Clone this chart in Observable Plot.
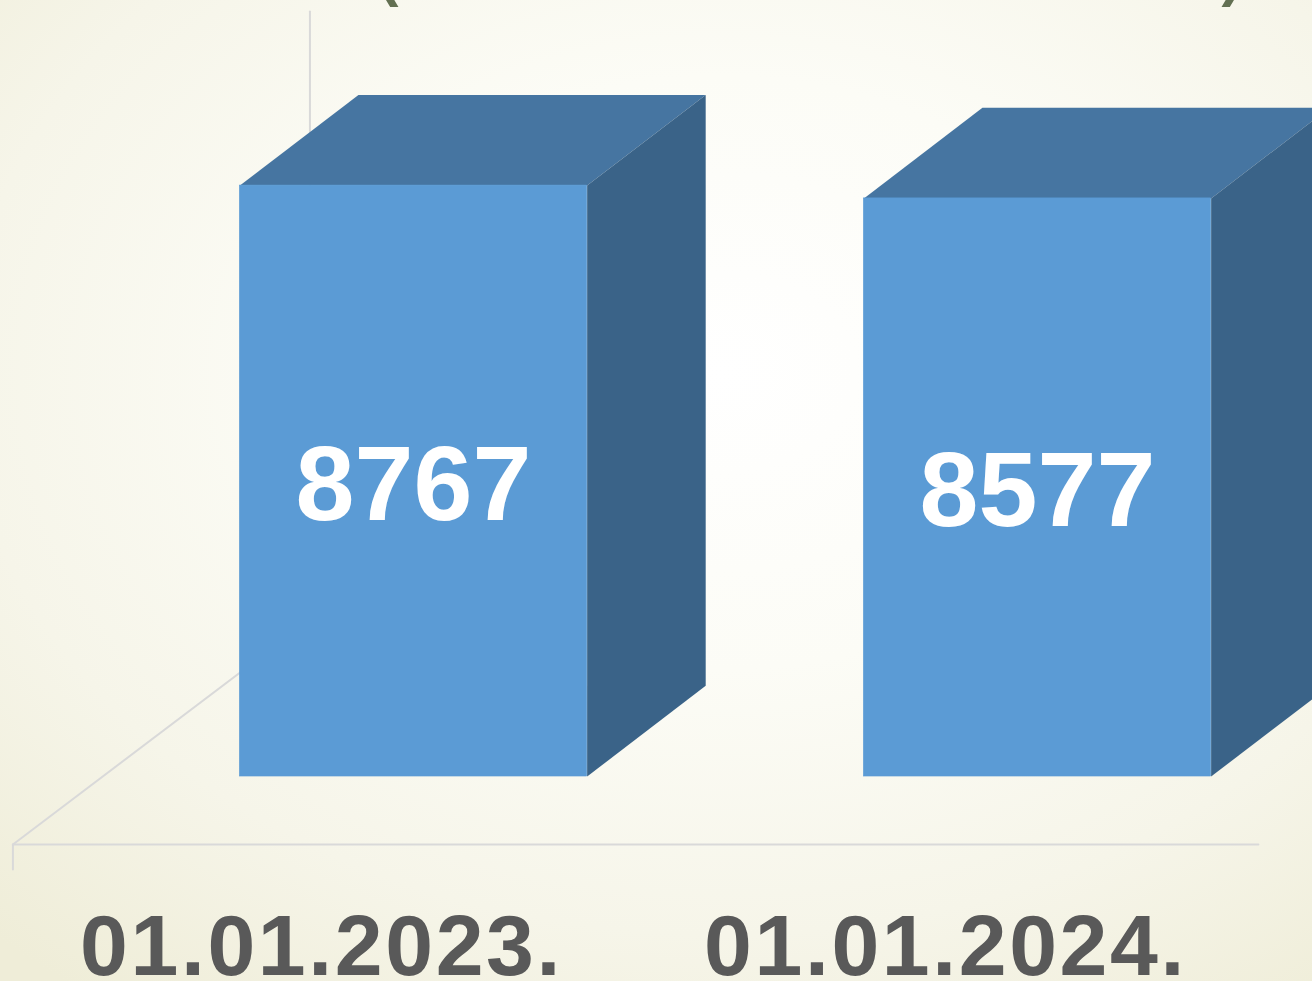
<!DOCTYPE html>
<html>
<head>
<meta charset="utf-8">
<script src="https://cdn.jsdelivr.net/npm/d3@7"></script>
<script src="https://cdn.jsdelivr.net/npm/@observablehq/plot@0.6"></script>
<style>
html,body{margin:0;padding:0;width:1312px;height:981px;overflow:hidden;
background:radial-gradient(ellipse 1050px 780px at 55% 38%, #ffffff 0%, #fcfcf6 38%, #f6f5e9 72%, #efedd8 100%);}
svg{display:block;background:transparent!important;}
.date-label text{letter-spacing:2.6px;}
</style>
</head>
<body>
<div id="chart"></div>
<script>
const categories = ["01.01.2023.", "01.01.2024."];
const values = [8767, 8577];
const positions = [0, 1];
const titleBrackets = ["(", ")"];
const titleBracketX = [-0.04, 1.311];

// 3D projection of the column depth, in scale units
const barWidth = 0.5565;
const depthX = 0.19;
const depthY = 1345;
const floorStart = -0.642;   // left end of the floor line
const floorEnd = 1.354;      // right end of the floor line
const floorFront = -1009;    // floor's front edge, below the columns' base
const wallTop = 11350;
const tickBottom = -1380;

const rows = categories.map((c, i) => ({label: c, value: values[i], pos: positions[i]}));
const faces = rows.flatMap(d => {
  const l = d.pos - barWidth / 2, r = d.pos + barWidth / 2, v = d.value;
  return [
    {face: "top", id: d.label, x: l, y: v}, {face: "top", id: d.label, x: r, y: v},
    {face: "top", id: d.label, x: r + depthX, y: v + depthY}, {face: "top", id: d.label, x: l + depthX, y: v + depthY},
    {face: "side", id: d.label, x: r, y: v}, {face: "side", id: d.label, x: r + depthX, y: v + depthY},
    {face: "side", id: d.label, x: r + depthX, y: depthY}, {face: "side", id: d.label, x: r, y: 0}
  ];
});
const faceOf = f => faces.filter(d => d.face === f);

// back corner of the floor, where the diagonal reaches the wall
const backX = floorStart + 0.476;
const backY = floorFront + 3338;
const axisLines = [
  {id: "floor", x: floorStart, y: floorFront}, {id: "floor", x: floorEnd, y: floorFront},
  {id: "tick", x: floorStart, y: floorFront}, {id: "tick", x: floorStart, y: tickBottom},
  {id: "diag", x: floorStart, y: floorFront}, {id: "diag", x: backX, y: backY},
  {id: "wall", x: backX, y: wallTop}, {id: "wall", x: backX, y: backY}
];

const chart = Plot.plot({
  width: 1312,
  height: 981,
  margin: 0,
  x: {domain: [-0.6619, 1.4407], range: [0, 1312], axis: null},
  y: {domain: [-3041, 11513], range: [981, 0], axis: null},
  style: {background: "transparent", overflow: "hidden"},
  marks: [
    Plot.line(axisLines, {x: "x", y: "y", z: "id", stroke: "#d9d9d9", strokeWidth: 2, curve: "linear"}),
    Plot.line(faceOf("top"), {x: "x", y: "y", z: "id", fill: "#4675a1", stroke: "none", curve: "linear-closed"}),
    Plot.line(faceOf("side"), {x: "x", y: "y", z: "id", fill: "#3a6388", stroke: "none", curve: "linear-closed"}),
    Plot.rect(rows, {x1: d => d.pos - barWidth / 2, x2: d => d.pos + barWidth / 2, y1: 0, y2: "value", fill: "#5b9bd5", stroke: "#5b9bd5", strokeWidth: 0.6, inset: 0}),
    Plot.text(rows, {x: "pos", y: d => d.value / 2, text: d => String(d.value), fill: "#ffffff",
      fontFamily: "Liberation Sans", fontWeight: "bold", fontSize: 106, dy: 5}),
    Plot.text(rows, {x: "pos", y: tickBottom, text: "label", fill: "#595959", dx: -92, dy: 78, className: "date-label",
      fontFamily: "Liberation Sans", fontWeight: "bold", fontSize: 86}),
    Plot.text(titleBrackets, {x: titleBracketX, y: [11513, 11513], text: d => d, fill: "#637052", dy: -25,
      fontFamily: "Liberation Sans", fontWeight: "bold", fontSize: 60})
  ]
});
document.getElementById("chart").append(chart);
</script>
</body>
</html>
